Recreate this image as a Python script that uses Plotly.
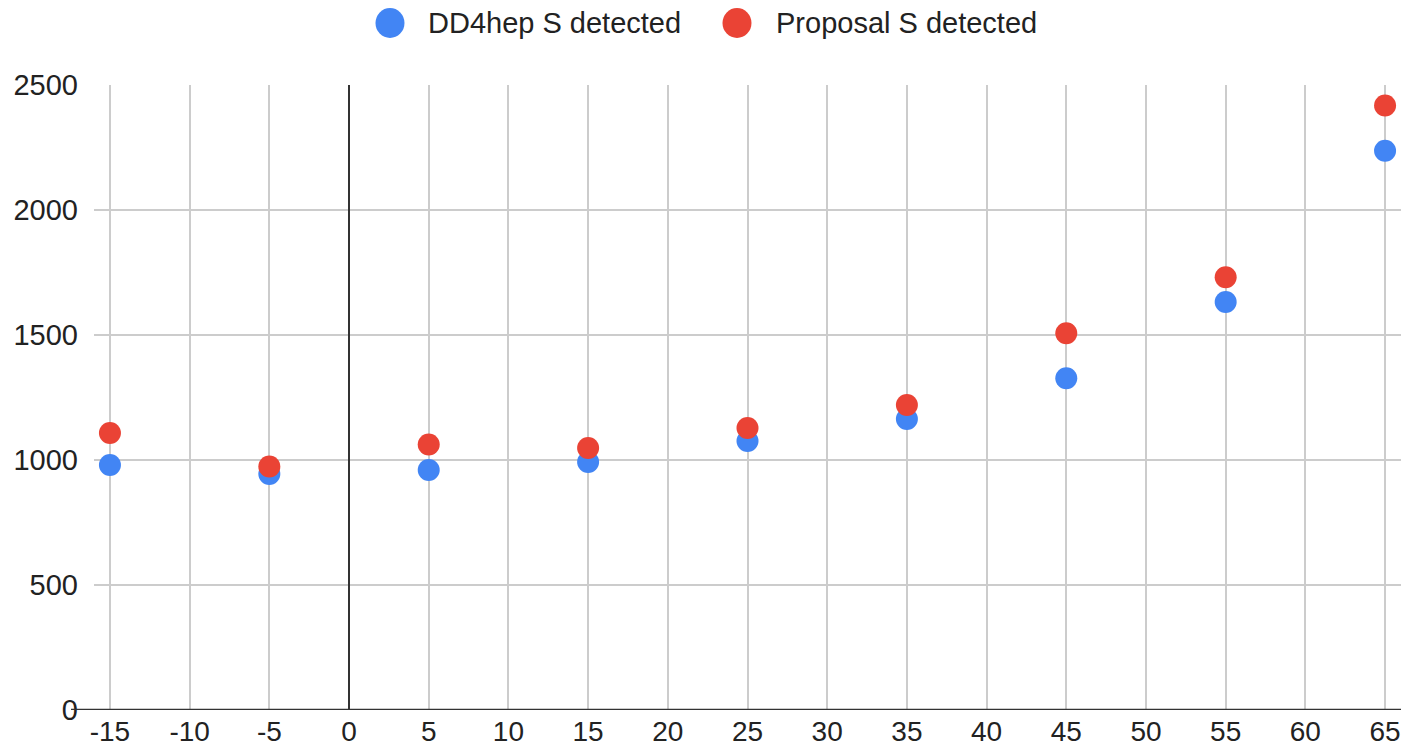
import plotly.graph_objects as go

# Angle values (x) and detected counts per setup
angles = [-15, -5, 5, 15, 25, 35, 45, 55, 65]
dd4hep_detected = [980, 944, 960, 992, 1076, 1164, 1327, 1632, 2237]
proposal_detected = [1108, 974, 1062, 1048, 1128, 1220, 1507, 1731, 2418]

series_names = ["DD4hep S detected", "Proposal S detected"]
series_colors = ["#4285F4", "#EA4335"]

x_ticks = list(range(-15, 70, 5))
y_ticks = [0, 500, 1000, 1500, 2000, 2500]

FONT = "Liberation Sans, Arial, sans-serif"
FONT_SIZE = 29
L, R, T, B = 94, 4, 85, 40
W, H = 1405, 750
plot_w = W - L - R
plot_h = H - T - B

fig = go.Figure()
for name, vals, col in zip(series_names, [dd4hep_detected, proposal_detected], series_colors):
    fig.add_trace(go.Scatter(
        x=angles, y=vals, mode="markers", name=name,
        marker=dict(color=col, size=22, line=dict(width=0)),
        showlegend=False,
    ))

def px_to_paper_x(px):
    return (px - L) / plot_w

def px_to_paper_y(py):
    return (H - B - py) / plot_h

# Legend drawn as circles plus labels above the plot
shapes = []
annotations = []
legend_items = [(390, 426), (737, 774)]
for (cx, tx), name, col in zip(legend_items, series_names, series_colors):
    shapes.append(dict(
        type="circle", xref="paper", yref="paper",
        xsizemode="pixel", ysizemode="pixel",
        xanchor=px_to_paper_x(cx), yanchor=px_to_paper_y(23),
        x0=-14.5, x1=14.5, y0=-15, y1=15,
        fillcolor=col, line=dict(width=0),
    ))
    annotations.append(dict(
        text=name, xref="paper", yref="paper",
        x=px_to_paper_x(tx), y=px_to_paper_y(23),
        xanchor="left", yanchor="middle", showarrow=False,
        font=dict(family=FONT, size=FONT_SIZE, color="#222222"),
    ))

# Baseline at zero extending slightly past the left edge
shapes.append(dict(
    type="line", xref="paper", yref="y",
    x0=px_to_paper_x(71), x1=1, y0=0, y1=0,
    line=dict(color="#333333", width=2.5),
))

fig.update_layout(
    width=W, height=H,
    margin=dict(l=L, r=R, t=T, b=B, autoexpand=False),
    paper_bgcolor="white", plot_bgcolor="white",
    font=dict(family=FONT, size=FONT_SIZE, color="#222222"),
    shapes=shapes, annotations=annotations,
    xaxis=dict(
        range=[-16, 66], tickmode="array", tickvals=x_ticks,
        ticktext=[str(v) for v in x_ticks],
        tickfont=dict(size=28),
        showgrid=True, gridcolor="#cccccc", gridwidth=2,
        zeroline=True, zerolinecolor="#333333", zerolinewidth=1.5,
        showline=False, ticks="", ticklabelstandoff=2, automargin=False,
    ),
    yaxis=dict(
        range=[0, 2500], tickmode="array", tickvals=y_ticks,
        showgrid=True, gridcolor="#cccccc", gridwidth=2,
        zeroline=False, showline=False, ticks="", ticklabelstandoff=15,
        automargin=False,
    ),
)

fig.write_html("out.html")
